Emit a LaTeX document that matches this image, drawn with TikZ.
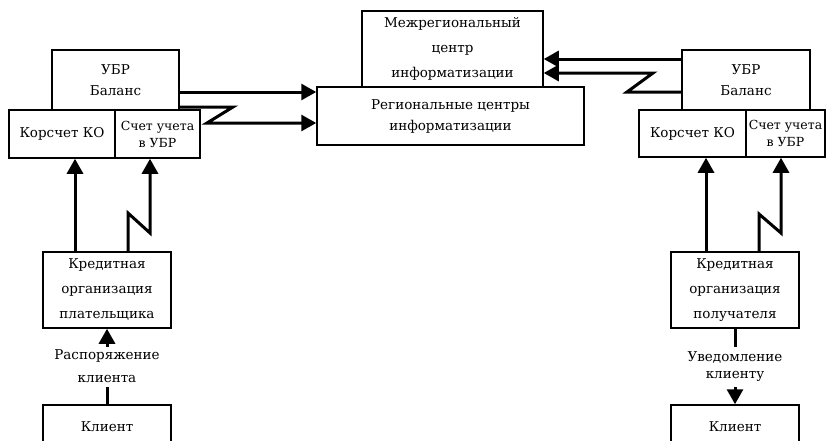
\documentclass[tikz,border=0pt]{standalone}
\usepackage{fontspec}
\setmainfont{DejaVu Serif}
\usetikzlibrary{arrows.meta}

\tikzset{
  blk/.style={draw, line width=1.5pt, inner sep=0pt, align=center,
    font=\fontsize{13.5}{21}\selectfont},
  lab/.style={fill=white, inner sep=0pt, align=center,
    minimum height=40pt, font=\fontsize{13.5}{23}\selectfont},
  arr/.style={line width=3pt, -{Triangle[length=15pt,width=16pt]}},
}

\begin{document}
\begin{tikzpicture}[x=1pt,y=-1pt]
  \useasboundingbox (0,0) rectangle (827,440);
  \clip (0,0) rectangle (827,440);

  % centre
  \node[blk, minimum width=181pt, minimum height=76pt, font=\fontsize{13.5}{25}\selectfont]
    (mezh) at (452.5,49) {Межрегиональный\\центр\\информатизации};
  \node[blk, minimum width=267pt, minimum height=58pt]
    (reg) at (450.5,116) {Региональные центры\\информатизации};

  % left side
  \node[blk, minimum width=127pt, minimum height=60pt] (ubrL) at (115.5,80) {УБР\\Баланс};
  \node[blk, minimum width=106pt, minimum height=48pt] (korL) at (62,134) {Корсчет КО};
  \node[blk, minimum width=85pt, minimum height=48pt, font=\fontsize{12.5}{17}\selectfont]
    (schL) at (157.5,134) {Счет учета\\в УБР};
  \node[blk, minimum width=128pt, minimum height=76pt, font=\fontsize{13.5}{25}\selectfont]
    (kredL) at (107,290) {Кредитная\\организация\\плательщика};
  \node[blk, minimum width=128pt, minimum height=76pt] (cliL) at (107,443) {Клиент\\[11pt]};

  % right side
  \node[blk, minimum width=128pt, minimum height=60pt] (ubrR) at (746,80) {УБР\\Баланс};
  \node[blk, minimum width=107pt, minimum height=47pt] (korR) at (692.5,133.5) {Корсчет КО};
  \node[blk, minimum width=79pt, minimum height=47pt, font=\fontsize{12.5}{17}\selectfont]
    (schR) at (785.5,133.5) {Счет учета\\в УБР};
  \node[blk, minimum width=128pt, minimum height=76pt, font=\fontsize{13.5}{25}\selectfont]
    (kredR) at (735,290) {Кредитная\\организация\\получателя};
  \node[blk, minimum width=128pt, minimum height=76pt] (cliR) at (735,443) {Клиент\\[11pt]};

  % links to the centres
  \draw[arr] (ubrL.east |- 0,92) -- (reg.west |- 0,92);
  \draw[arr] (ubrL.east |- 0,107) -- (233,107) -- (207,123) -- (reg.west |- 0,123);
  \draw[arr] (ubrR.west |- 0,59) -- (mezh.east |- 0,59);
  \draw[arr] (ubrR.west |- 0,92) -- (627,92) -- (653,73) -- (mezh.east |- 0,73);

  % credit organisations up to the accounts
  \draw[arr] (kredL.north -| 75,0) -- (korL.south -| 75,0);
  \draw[arr] (kredL.north -| 128,0) -- (128,213) -- (150,233) -- (schL.south -| 150,0);
  \draw[arr] (kredR.north -| 706,0) -- (korR.south -| 706,0);
  \draw[arr] (kredR.north -| 759,0) -- (759,214) -- (781,233) -- (schR.south -| 781,0);

  % clients
  \draw[arr] (cliL) -- node[lab] {Распоряжение\\клиента} (kredL);
  \draw[arr] (kredR) -- node[lab, font=\fontsize{13.5}{17}\selectfont] {Уведомление\\клиенту} (cliR);
\end{tikzpicture}
\end{document}
